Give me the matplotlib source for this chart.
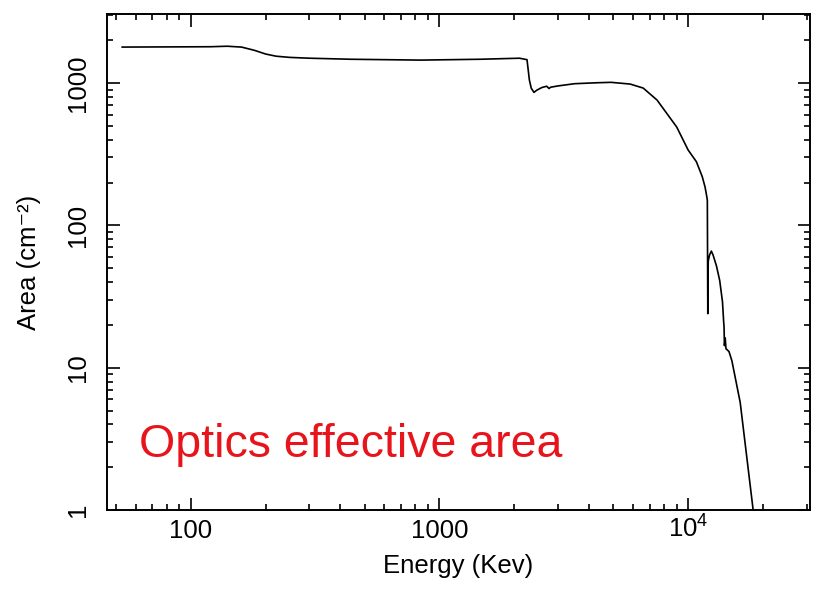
import numpy as np
import matplotlib.pyplot as plt
from matplotlib.ticker import FixedLocator, LogLocator, NullFormatter

plt.rcParams['font.family'] = ['Liberation Sans', 'DejaVu Sans']
plt.rcParams['mathtext.fontset'] = 'custom'
plt.rcParams['mathtext.rm'] = 'Liberation Sans'
plt.rcParams['mathtext.it'] = 'Liberation Sans'
plt.rcParams['mathtext.default'] = 'rm'

# effective area curve (energy in keV, area in cm^2)
energy = [53, 80, 120, 140, 160, 180, 200, 220, 250, 300, 440, 840,
          1460, 2100, 2250, 2300, 2340, 2400, 2460, 2580, 2700, 2760, 2800,
          3000, 3500, 4300, 4900, 5850, 6600, 7500, 9000, 10000, 10800,
          11400, 11700, 11900, 11950, 12000, 12050, 12200, 12400, 12600,
          13000, 13400, 13750, 13900, 13950, 14000, 14100, 14200, 14600,
          15000, 16200, 18240, 18600]
area = [1790, 1795, 1800, 1815, 1790, 1700, 1600, 1545, 1515, 1495, 1470,
        1450, 1470, 1495, 1460, 1050, 920, 860, 890, 930, 950, 915, 935,
        955, 990, 1005, 1012, 984, 922, 760, 491, 339, 280, 220, 186, 158,
        150, 24, 56, 62, 66, 62, 52, 41, 29, 21, 19.3, 14.3, 16.2, 13.6,
        13, 11.2, 5.7, 1.02, 0.85]

x_ticks = [100, 1000, 10000]
x_labels = ['100', '1000', '10$^{4}$']
y_ticks = [1, 10, 100, 1000]
y_labels = ['1', '10', '100', '1000']

fig = plt.figure(figsize=(8.16, 5.89), dpi=100)
ax = fig.add_axes([0.131, 0.134, 0.862, 0.842])

ax.plot(energy, area, color='black', lw=1.2)

ax.set_xscale('log')
ax.set_yscale('log')
ax.set_xlim(46, 31000)
ax.set_ylim(1, 3050)

ax.xaxis.set_major_locator(FixedLocator(x_ticks))
ax.set_xticklabels(x_labels, va='baseline')
ax.yaxis.set_major_locator(FixedLocator(y_ticks))
ax.set_yticklabels(y_labels, rotation=90, va='center')
ax.xaxis.set_minor_locator(LogLocator(base=10, subs=np.arange(2, 10)))
ax.yaxis.set_minor_locator(LogLocator(base=10, subs=np.arange(2, 10)))
ax.xaxis.set_minor_formatter(NullFormatter())
ax.yaxis.set_minor_formatter(NullFormatter())

ax.tick_params(which='both', direction='in', top=True, right=True,
               width=1.2, labelsize=18.5)
ax.tick_params(which='major', length=9)
ax.tick_params(axis='x', which='major', pad=20)
ax.tick_params(axis='y', which='major', pad=12.5)
ax.tick_params(which='minor', length=4.5)
for s in ax.spines.values():
    s.set_linewidth(1.4)

ax.set_xlabel('Energy (Kev)', fontsize=18.5, labelpad=8)
ax.set_ylabel('Area (cm\u207b\u00b2)', fontsize=18.5, labelpad=18)

ax.text(0.046, 0.131, 'Optics effective area', transform=ax.transAxes,
        color='#e8141c', fontsize=33.5, ha='left', va='center')

fig.savefig('out.png', dpi=100)
